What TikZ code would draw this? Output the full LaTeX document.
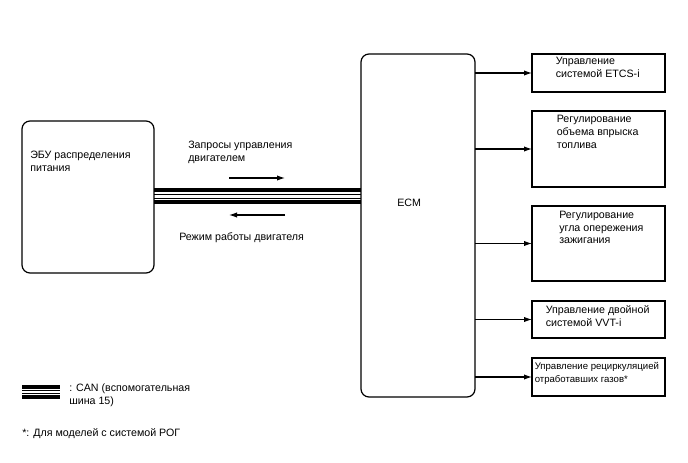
\documentclass[tikz,border=0pt]{standalone}
\usepackage{fontspec}
\setmainfont{Liberation Sans}
\usetikzlibrary{arrows.meta,positioning,calc}
\tikzset{
  box/.style={draw, line width=0.9pt, inner sep=0pt, outer sep=0pt},
  sz/.style 2 args={minimum width=#1*0.75pt, minimum height=#2*0.75pt},
  lbl/.style={inner sep=0pt, anchor=north west, align=left,
    font=\fontsize{8}{9.7}\selectfont},
  arr/.style={line width=0.8pt, -{Latex[length=6pt,width=4pt]}},
  busthick/.style={line width=3pt},
  busthin/.style={line width=0.7pt},
}

\begin{document}
\begin{tikzpicture}[x=0.75pt, y=-0.75pt]
  \useasboundingbox (0,0) rectangle (688,463);

  % blocks
  \node[box, rounded corners=6pt, sz={132}{152}] (ebu) at (88,197) {};
  \node[box, rounded corners=6pt, sz={114}{343}] (ecm) at (418,225.5) {};
  \node[box, sz={133}{38}] (etcs) at (598.5,73) {};
  \node[box, sz={133}{76}] (fuel) at (598.5,149) {};
  \node[box, sz={133}{75}] (ign) at (598.5,243.5) {};
  \node[box, sz={133}{37}] (vvt) at (598.5,319.5) {};
  \node[box, sz={133}{38}] (egr) at (598.5,377) {};

  % texts
  \node[lbl] (ebutext) at (30,151) {ЭБУ распределения\\питания};
  \node[lbl] (ecmtext) at (397,199) {ECM};
  \node[lbl] (etcstext) at (555.5,57) {Управление\\системой ETCS-i};
  \node[lbl] (fueltext) at (556.5,115) {Регулирование\\объема впрыска\\топлива};
  \node[lbl] (igntext) at (559,210.5) {Регулирование\\угла опережения\\зажигания};
  \node[lbl] (vvttext) at (545.5,305) {Управление двойной\\системой VVT-i};
  \node[lbl, font=\fontsize{7.2}{9.7}\selectfont] (egrtext) at (534.5,362.5)
    {Управление рециркуляцией\\отработавших газов*};

  % CAN bus
  \foreach \o/\s in {-6.5/busthick, -2.5/busthin, 1.3/busthin, 5/busthick}
    \draw[\s] ($(ebu.east)+(0,\o)$) -- ($(ebu.east -| ecm.west)+(0,\o)$);

  % signals on the bus
  \coordinate (reqa) at (229,178);
  \coordinate (reqb) at (285,178);
  \coordinate (moda) at (285,215);
  \coordinate (modb) at (229,215);
  \draw[arr] (reqa) -- (reqb);
  \draw[arr] (moda) -- (modb);
  \node[lbl] (reqtext) at (188,141) {Запросы управления\\двигателем};
  \node[lbl] (modtext) at (179,232.5) {Режим работы двигателя};

  % outputs of ECM
  \foreach \b in {etcs,fuel,ign,vvt,egr}
    \draw[arr] (ecm.east |- \b.west) -- (\b.west);

  % legend
  \coordinate (lega) at (22,392.5);
  \coordinate (legb) at (60,392.5);
  \foreach \o/\s in {-6/busthick, -2.2/busthin, 1.2/busthin, 4.8/busthick}
    \draw[\s] ($(lega)+(0,\o)$) -- ($(legb)+(0,\o)$);
  \node[lbl] (legtext) at (69,384) {: CAN (вспомогательная\\шина 15)};
  \node[lbl] (note) at (22,428) {*: Для моделей с системой РОГ};
\end{tikzpicture}
\end{document}
